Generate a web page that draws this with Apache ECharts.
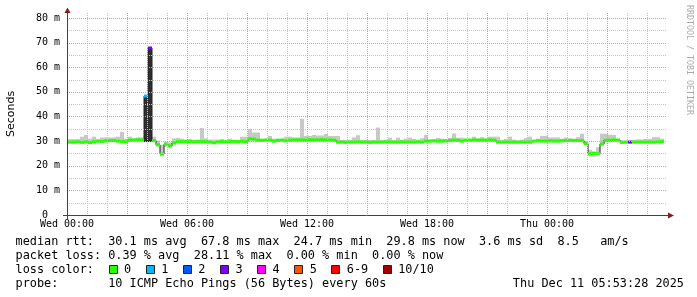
<!DOCTYPE html>
<html><head><meta charset="utf-8">
<script src="https://cdn.jsdelivr.net/npm/echarts@6/dist/echarts.min.js"></script>
<style>html,body{margin:0;padding:0;background:#fff}#c{width:697px;height:297px}</style>
</head><body><div id="c"></div>
<script>
// ---- data (hours since Wed 00:00, 12-minute bins) ----
const binStartHour = 0.05;
const binHours = 0.2;
const medianRtt = [
 29.6,29.6,29.7,29.5,29.7,29.4,29.8,30.0,29.9,30.1,
 30.2,30.2,30.0,29.8,29.8,30.4,30.5,30.5,30.5,48.3,
 67.8,30.2,28.5,24.7,28.7,28.0,29.2,29.8,29.8,29.9,
 29.8,29.7,29.8,29.8,29.8,29.6,29.3,29.7,29.8,29.7,
 29.8,29.9,29.8,29.9,29.8,30.9,30.8,30.4,30.3,30.4,
 30.4,30.0,30.3,30.4,30.1,30.4,30.5,30.5,30.5,30.4,
 30.6,30.5,30.5,30.6,30.5,30.5,30.4,29.6,29.6,29.5,
 29.6,29.6,29.7,29.6,29.6,29.5,29.6,29.6,29.6,29.7,
 29.6,29.6,29.6,29.7,29.6,29.6,29.6,29.7,29.6,30.0,
 30.0,30.1,30.0,30.0,30.1,30.3,30.4,30.3,30.0,30.4,
 30.4,30.5,30.4,30.4,30.4,30.5,30.4,29.6,29.6,29.6,
 29.6,29.6,29.6,29.6,29.6,29.6,30.0,30.1,30.0,30.0,
 30.1,30.0,30.0,30.1,30.2,30.3,30.2,30.2,30.2,29.0,
 24.9,25.0,24.9,28.8,30.4,30.4,30.5,30.4,29.5,29.6,
 29.6,29.6,29.6,29.6,29.6,29.6,29.6,29.7,29.8
];
const lossLevel = [
 0,0,0,0,0,0,0,0,0,0,
 0,0,0,0,0,0,0,0,0,1,
 3,0,0,0,0,0,0,0,0,0,
 0,0,0,0,0,0,0,0,0,0,
 0,0,0,0,0,0,0,0,0,0,
 0,0,0,0,0,0,0,0,0,0,
 0,0,0,0,0,0,0,0,0,0,
 0,0,0,0,0,0,0,0,0,0,
 0,0,0,0,0,0,0,0,0,0,
 0,0,0,0,0,0,0,0,0,0,
 0,0,0,0,0,0,0,0,0,0,
 0,0,0,0,0,0,0,0,0,0,
 0,0,0,0,0,0,0,0,0,0,
 0,0,0,0,0,0,0,0,0,0,
 3,0,0,0,0,0,0,0,0
];
const smokeTop = [
 30.8,30.8,30.8,31.8,32.5,31.0,31.8,30.7,31.5,31.5,
 31.5,31.5,31.8,33.8,31.0,31.8,31.0,31.5,31.5,null,
 null,31.8,30.2,28.4,29.8,29.5,31.1,31.3,31.0,30.6,
 30.9,30.5,30.6,35.3,31.1,30.6,30.6,30.6,30.9,30.4,
 31.0,30.5,30.5,31.8,31.8,34.9,33.5,33.5,31.0,31.0,
 32.1,31.0,31.0,31.0,31.8,31.8,31.5,31.5,39.0,32.1,
 32.1,32.5,32.3,32.3,32.9,32.1,32.1,32.1,30.5,30.5,
 30.5,31.5,32.4,30.5,30.5,30.5,30.5,35.5,30.5,30.6,
 31.4,30.5,31.4,30.5,31.0,31.4,30.9,30.6,31.2,32.5,
 30.7,30.7,31.3,31.0,30.8,31.3,33.1,31.4,31.4,31.0,
 31.0,31.8,31.1,31.6,31.1,31.8,31.8,31.8,30.5,30.9,
 31.8,30.6,30.3,30.6,31.2,31.8,30.4,31.0,32.1,32.1,
 31.5,31.5,31.5,31.0,31.5,31.1,31.0,31.6,33.0,30.0,
 26.5,25.8,27.5,33.0,33.0,32.6,32.5,31.0,30.3,30.2,
 30.2,30.5,30.7,30.7,30.9,30.9,31.6,31.6,31.0
];
const smokeLo = [
 29.1,29.1,29.2,29.0,29.2,28.9,29.3,29.5,29.4,29.6,
 29.7,29.7,29.5,29.3,29.3,29.9,30.0,30.0,30.0,null,
 null,29.7,28.0,24.2,27.7,27.5,28.8,29.3,29.3,29.4,
 29.3,29.2,29.3,29.3,29.3,29.1,28.8,29.2,29.3,29.2,
 29.3,29.4,29.3,29.4,29.3,30.2,30.2,29.9,29.8,29.9,
 29.9,29.5,29.8,29.9,29.6,29.9,30.0,30.0,30.0,29.9,
 30.1,30.0,30.0,30.1,30.0,30.0,29.9,29.1,29.1,29.0,
 29.1,29.1,29.2,29.1,29.1,29.0,29.1,29.1,29.1,29.2,
 29.1,29.1,29.1,29.2,29.1,29.1,29.1,29.2,29.1,29.5,
 29.5,29.6,29.5,29.5,29.6,29.8,29.9,29.8,29.5,29.9,
 29.9,30.0,29.9,29.9,29.9,30.0,29.9,29.1,29.1,29.1,
 29.1,29.1,29.1,29.1,29.1,29.1,29.5,29.6,29.5,29.5,
 29.6,29.5,29.5,29.6,29.7,29.8,29.7,29.7,29.7,28.5,
 24.0,23.6,24.5,28.3,29.9,29.9,30.0,29.9,29.0,29.1,
 29.1,29.1,29.1,29.1,29.1,29.1,29.1,29.2,29.3
];
const darkSmokeBins = [19, 20];
const darkSmokeLo = [29.6, 29.6];
const darkSmokeTop = [48.3, 67.8];

const xTickLabels = ['Wed 00:00','Wed 06:00','Wed 12:00','Wed 18:00','Thu 00:00'];
const yTickLabels = ['0  ','10 m','20 m','30 m','40 m','50 m','60 m','70 m','80 m'];
const majorY = [10,20,30,40,50,60,70,80];
const minorY = [5,15,25,35,45,55,65,75];
const majorX = [3,6,9,12,15,18,21,24,27];
const minorX = [1,2,4,5,7,8,10,11,13,14,16,17,19,20,22,23,25,26,28,29];

const lossNames = ['0','1','2','3','4','5','6-9','10/10'];
const lossColors = ['#26ff00','#00b8ff','#0059ff','#7e00ff','#ff00ff','#ff5500','#ff0000','#a10000'];
const statLines = [
 'median rtt:  30.1 ms avg  67.8 ms max  24.7 ms min  29.8 ms now  3.6 ms sd  8.5   am/s',
 'packet loss: 0.39 % avg  28.11 % max  0.00 % min  0.00 % now',
 'loss color:',
 'probe:       10 ICMP Echo Pings (56 Bytes) every 60s'
];
const stampText = 'Thu Dec 11 05:53:28 2025';
const watermark = 'RRDTOOL / TOBI OETIKER';

// ---- build series data ----
const nBins = medianRtt.length;
const bs = i => binStartHour + i * binHours;
const smokeData = [], medData = [], darkData = [];
for (let i = 0; i < nBins; i++) {
  const s = bs(i), e = s + binHours;
  if (smokeTop[i] != null) smokeData.push([s, e, smokeLo[i], smokeTop[i]]);
  const next = i + 1 < nBins ? medianRtt[i + 1] : medianRtt[i];
  medData.push([s, e, medianRtt[i], lossLevel[i], next]);
}
darkSmokeBins.forEach((b, k) => darkData.push([bs(b), bs(b) + binHours, darkSmokeLo[k], darkSmokeTop[k]]));
const minorGridData = minorY.map(v => [0, v]).concat(minorX.map(v => [1, v]));
const majorGridData = majorY.map(v => [0, v]).concat(majorX.map(v => [1, v]));

const MONO = 'DejaVu Sans Mono';
const crisp = v => Math.round(v) + 0.5;
function rectRender(fill) {
  return (params, api) => {
    const p1 = api.coord([api.value(0), api.value(3)]);
    const p2 = api.coord([api.value(1), api.value(2)]);
    return { type: 'rect', shape: { x: p1[0], y: p1[1], width: p2[0] - p1[0], height: p2[1] - p1[1] }, style: { fill } };
  };
}
// dotted grid line drawn as a row of 1px squares (on 1, off 1)
function gridRender(color) {
  return (params, api) => {
    const cs = params.coordSys;
    const v = api.value(1);
    const children = [];
    if (api.value(0) === 1) {
      const x = Math.round(api.coord([v, 0])[0]);
      for (let y = cs.y; y < cs.y + cs.height; y += 2)
        children.push({ type: 'rect', shape: { x, y, width: 1, height: 1 }, style: { fill: color } });
    } else {
      const y = Math.round(api.coord([0, v])[1]);
      for (let x = cs.x; x < cs.x + cs.width; x += 2)
        children.push({ type: 'rect', shape: { x, y, width: 1, height: 1 }, style: { fill: color } });
    }
    return { type: 'group', children };
  };
}

// ---- graphic: legend / texts ----
const cw = 7.13, fs = 11.85, lx = 15.5, lineY = [241.5, 255.5, 269.5, 283.5];
const graphics = [];
statLines.forEach((t, k) => graphics.push({ type: 'text', x: lx, y: lineY[k], silent: true,
  style: { text: t, fontFamily: MONO, fontSize: fs, fill: '#000', textVerticalAlign: 'middle', textAlign: 'left' } }));
let bx = 108.5;
lossNames.forEach((n, k) => {
  graphics.push({ type: 'rect', silent: true, shape: { x: Math.round(bx) + 0.5, y: 265.5, width: 8, height: 8 },
    style: { fill: lossColors[k], stroke: '#222', lineWidth: 1 } });
  const tx = bx + 15.5;
  graphics.push({ type: 'text', x: tx, y: lineY[2], silent: true,
    style: { text: n, fontFamily: MONO, fontSize: fs, fill: '#000', textVerticalAlign: 'middle' } });
  bx = tx + n.length * cw + 14.5;
});
graphics.push({ type: 'text', x: 684, y: lineY[3], silent: true,
  style: { text: stampText, fontFamily: MONO, fontSize: fs, fill: '#000', textVerticalAlign: 'middle', textAlign: 'right' } });
graphics.push({ type: 'text', x: 689, y: 5, rotation: -Math.PI / 2, silent: true,
  style: { text: watermark, fontFamily: MONO, fontSize: 8.3, fill: '#aaaaaa', textVerticalAlign: 'middle', textAlign: 'left' } });
// axes lines and arrows
graphics.push({ type: 'line', silent: true, z: 50, shape: { x1: 63, y1: 215.5, x2: 670, y2: 215.5 }, style: { stroke: '#2c4d43', lineWidth: 1 } });
graphics.push({ type: 'line', silent: true, z: 50, shape: { x1: 67.5, y1: 219, x2: 67.5, y2: 12 }, style: { stroke: '#2c4d43', lineWidth: 1 } });
graphics.push({ type: 'polygon', silent: true, z: 51, shape: { points: [[668, 212.5], [674, 215.5], [668, 218.5]] }, style: { fill: '#7f1f1f' } });
graphics.push({ type: 'polygon', silent: true, z: 51, shape: { points: [[64.5, 13], [67.5, 7.5], [70.5, 13]] }, style: { fill: '#7f1f1f' } });

const chart = echarts.init(document.getElementById('c'), null, { renderer: 'canvas' });
chart.setOption({
  animation: false,
  backgroundColor: '#ffffff',
  grid: { left: 67, top: 13, width: 600, height: 202, containLabel: false, outerBoundsMode: 'none' },
  xAxis: {
    type: 'value', min: 0, max: 30, interval: 6,
    axisLine: { show: false }, axisTick: { show: false }, splitLine: { show: false },
    axisLabel: { formatter: v => (v % 6 === 0 && xTickLabels[v / 6] !== undefined) ? xTickLabels[v / 6] : '',
      fontFamily: MONO, fontSize: 10, color: '#000', margin: 4 }
  },
  yAxis: {
    type: 'value', min: 0, max: 82, interval: 10,
    name: 'Seconds', nameLocation: 'middle', nameGap: 50, nameRotate: 90,
    nameTextStyle: { fontFamily: 'DejaVu Sans', fontSize: 11, color: '#000' },
    axisLine: { show: false }, axisTick: { show: false }, splitLine: { show: false },
    axisLabel: { formatter: v => (v % 10 === 0 && yTickLabels[v / 10] !== undefined) ? yTickLabels[v / 10] : '',
      fontFamily: MONO, fontSize: 10, color: '#000', margin: 7 }
  },
  series: [
    { type: 'custom', name: 'smoke', renderItem: rectRender('#c8c8c8'), data: smokeData,
      encode: { x: [0, 1], y: [2, 3] }, z: 1, silent: true },
    { type: 'custom', name: 'smokeDark', renderItem: rectRender('#2e2e2e'), data: darkData,
      encode: { x: [0, 1], y: [2, 3] }, z: 2, silent: true },
    { type: 'custom', name: 'medianLine', data: medData, encode: { x: [0, 1], y: 2 }, z: 3, silent: true,
      renderItem: (params, api) => {
        const p1 = api.coord([api.value(0), api.value(2)]);
        const p2 = api.coord([api.value(1), api.value(2)]);
        const pn = api.coord([api.value(1), api.value(4)]);
        return { type: 'polyline', shape: { points: [[p1[0], p1[1]], [crisp(p2[0]) - 0.5, p2[1]], [crisp(p2[0]) - 0.5, pn[1]]] },
          style: { stroke: '#202020', lineWidth: 1, fill: null } };
      } },
    { type: 'custom', name: 'medianLoss', data: medData, encode: { x: [0, 1], y: 2 }, z: 4, silent: true,
      renderItem: (params, api) => {
        const p1 = api.coord([api.value(0), api.value(2)]);
        const p2 = api.coord([api.value(1), api.value(2)]);
        return { type: 'rect', shape: { x: p1[0], y: p1[1] - 1.5, width: p2[0] - p1[0], height: 3 },
          style: { fill: lossColors[api.value(3)] } };
      } },
    { type: 'custom', name: 'gridMinor', data: minorGridData, encode: { x: 1 }, z: 5, silent: true, clip: false,
      renderItem: gridRender('#c4c4c4') },
    { type: 'custom', name: 'gridMajor', data: majorGridData, encode: { x: 1 }, z: 6, silent: true, clip: false,
      renderItem: gridRender('#e89494') }
  ],
  graphic: graphics
});
</script></body></html>
